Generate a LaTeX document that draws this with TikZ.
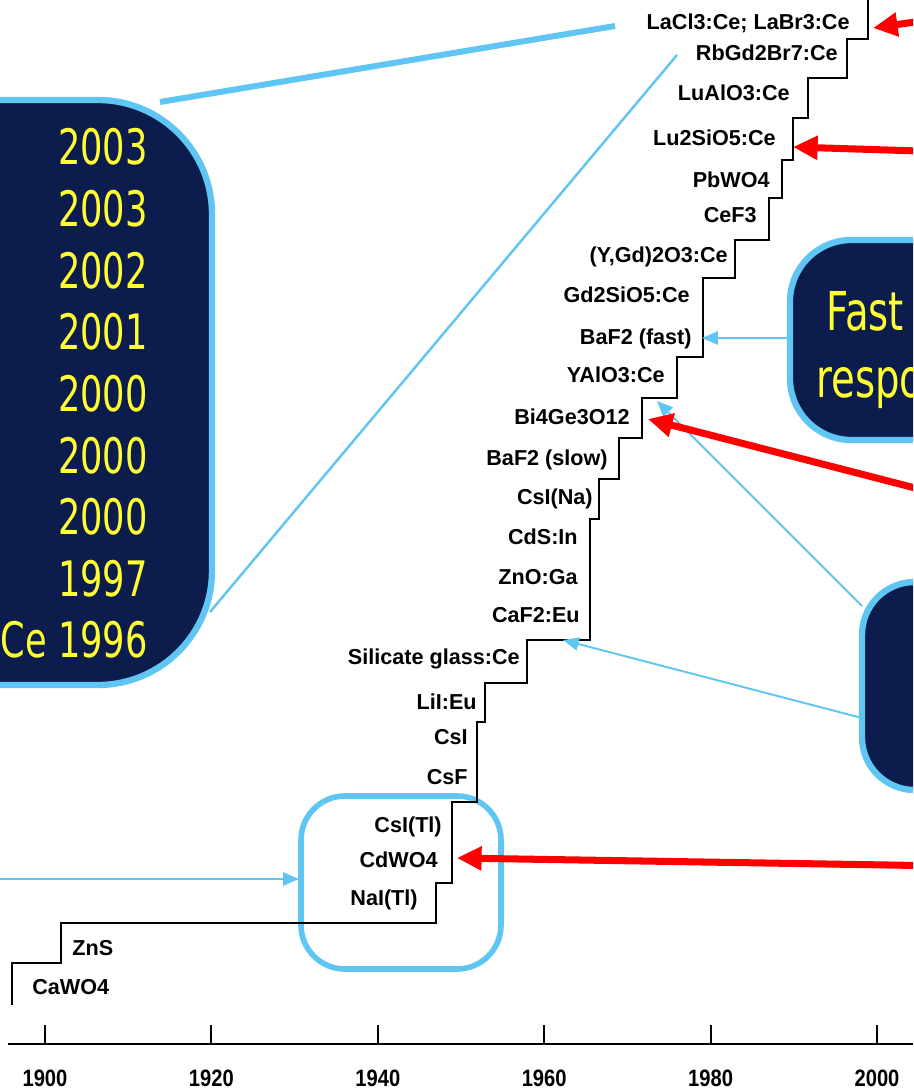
\documentclass[tikz,border=0pt]{standalone}
\usepackage{fontspec}
\setmainfont{Liberation Sans}
\newfontfamily\yrfont{DejaVu Sans}[FakeStretch=0.72]
\newfontfamily\axfont{Liberation Sans}[FakeStretch=0.85]
\usetikzlibrary{arrows.meta}
\definecolor{navy}{RGB}{12,28,76}
\definecolor{skyb}{RGB}{95,197,242}
\definecolor{yel}{RGB}{255,255,51}
\tikzset{
  mat/.style={font=\fontsize{12.3}{14}\selectfont\bfseries, anchor=base east, inner sep=0pt},
  matl/.style={mat, anchor=base west},
  yr/.style={font=\yrfont\fontsize{27.8}{30}\selectfont, text=yel, anchor=base east, inner sep=0pt},
  big/.style={font=\yrfont\fontsize{30.5}{32}\selectfont, text=yel, anchor=base west, inner sep=0pt},
  axlbl/.style={font=\axfont\bfseries\fontsize{13.5}{16}\selectfont, anchor=base, inner sep=0pt},
  panel/.style={draw=skyb, fill=navy, line width=3.6pt},
  bluearrow/.style={draw=skyb, line width=1.1pt, -{Triangle[length=9pt,width=7.5pt]}},
  redarrow/.style={draw=red, line width=4pt, -{Triangle[length=14pt,width=13pt]}},
  stair/.style={draw=black, line width=1.3pt},
}
\begin{document}
\begin{tikzpicture}[x=0.02cm, y=-0.02cm]
\useasboundingbox (0,0) rectangle (913,1091);
\clip (0,0) rectangle (913,1091);
\draw [panel, rounded corners=65] (-120,100) rectangle (212,685);
\draw [panel, rounded corners=35] (790,240) rectangle (1000,440);
\draw [panel, rounded corners=30] (862,582) rectangle (1000,790);
\draw [draw=skyb, line width=3.2pt, rounded corners=25] (301,796) rectangle (501,969);
\coordinate (yrtop) at (160,102);
\coordinate (yrside) at (210,612);
\coordinate (topend) at (615,26);
\coordinate (thinend) at (677,55);
\draw [draw=skyb, line width=3.4pt] (yrtop) -- (topend);
\draw [draw=skyb, line width=1.4pt] (yrside) -- (thinend);
\node[yr] (y1) at (148,165) {2003};
\node[yr] (y2) at (148,226.6) {2003};
\node[yr] (y3) at (148,288.2) {2002};
\node[yr] (y4) at (148,349.8) {2001};
\node[yr] (y5) at (148,411.4) {2000};
\node[yr] (y6) at (148,473) {2000};
\node[yr] (y7) at (148,534.6) {2000};
\node[yr] (y8) at (148,596.2) {1997};
\node[yr] (y9) at (148,657.8) {Ce 1996};
\node[big] (fast) at (826,330) {Fast};
\node[big] (respo) at (816,397) {respo};
\draw [stair] (12,1005) -- (12,963) -- (61,963) -- (61,923) -- (436,923) -- (436,883) -- (452,883) -- (452,802) -- (477,802) -- (477,722) -- (485,722) -- (485,683) -- (527,683) -- (527,640) -- (590,640) -- (590,519) -- (599,519) -- (599,479) -- (619,479) -- (619,438) -- (642,438) -- (642,398) -- (677,398) -- (677,357) -- (703,357) -- (703,278) -- (735,278) -- (735,240) -- (769,240) -- (769,198) -- (782,198) -- (782,160) -- (793,160) -- (793,118) -- (808,118) -- (808,78) -- (847,78) -- (847,39) -- (868,39) -- (868,-5);
\node[mat] (lacl) at (850,29.5) {LaCl3:Ce; LaBr3:Ce};
\node[mat] (rbgd) at (838,60.5) {RbGd2Br7:Ce};
\node[mat] (lualo) at (790,100.5) {LuAlO3:Ce};
\node[mat] (luso) at (776,145.5) {Lu2SiO5:Ce};
\node[mat] (pbwo) at (770,187.5) {PbWO4};
\node[mat] (cef) at (757,222.5) {CeF3};
\node[mat] (ygd) at (728,262.5) {(Y,Gd)2O3:Ce};
\node[mat] (gso) at (690,302.5) {Gd2SiO5:Ce};
\node[mat] (bafast) at (692,344.5) {BaF2 (fast)};
\node[mat] (yap) at (665,382.5) {YAlO3:Ce};
\node[mat] (bgo) at (630,424.5) {Bi4Ge3O12};
\node[mat] (baslow) at (608,465.5) {BaF2 (slow)};
\node[mat] (csina) at (593,504.5) {CsI(Na)};
\node[mat] (cds) at (578,544.5) {CdS:In};
\node[mat] (zno) at (578,584.5) {ZnO:Ga};
\node[mat] (caf) at (580,622.5) {CaF2:Eu};
\node[mat] (glass) at (520,664.5) {Silicate glass:Ce};
\node[mat] (lii) at (477,709.5) {LiI:Eu};
\node[mat] (csi) at (468,744.5) {CsI};
\node[mat] (csf) at (468,784.5) {CsF};
\node[mat] (csitl) at (442,832.5) {CsI(Tl)};
\node[mat] (cdwo) at (438,867.5) {CdWO4};
\node[mat] (nai) at (418,905.5) {NaI(Tl)};
\node[matl] (zns) at (72,955.5) {ZnS};
\node[matl] (cawo) at (32,994.5) {CaWO4};
\draw [line width=1.2pt] (8,1044) -- (913,1044);
\draw [line width=1.1pt] (45,1025) -- (45,1044);
\draw [line width=1.1pt] (211.4,1025) -- (211.4,1044);
\draw [line width=1.1pt] (377.8,1025) -- (377.8,1044);
\draw [line width=1.1pt] (544.2,1025) -- (544.2,1044);
\draw [line width=1.1pt] (710.6,1025) -- (710.6,1044);
\draw [line width=1.1pt] (877,1025) -- (877,1044);
\node[axlbl] (t1900) at (45,1086) {1900};
\node[axlbl] (t1920) at (211.4,1086) {1920};
\node[axlbl] (t1940) at (377.8,1086) {1940};
\node[axlbl] (t1960) at (544.2,1086) {1960};
\node[axlbl] (t1980) at (710.6,1086) {1980};
\node[axlbl] (t2000) at (877,1086) {2000};
\coordinate (leftin) at (0,879);
\coordinate (csiboxW) at (299,879);
\coordinate (fastW) at (790,338);
\coordinate (tipfast) at (702,338);
\coordinate (lowtop) at (862,606);
\coordinate (tipyap) at (657,401);
\coordinate (lowside) at (862,718);
\coordinate (tipcaf) at (563,640);
\draw [bluearrow] (leftin) -- (csiboxW);
\draw [bluearrow] (fastW) -- (tipfast);
\draw [bluearrow] (lowtop) -- (tipyap);
\draw [bluearrow] (lowside) -- (tipcaf);
\coordinate (r1) at (950,17);
\coordinate (tiplacl) at (873,28);
\coordinate (r2) at (950,152);
\coordinate (tipluso) at (793,147);
\coordinate (r3) at (950,497);
\coordinate (tipbgo) at (648,419);
\coordinate (r4) at (950,866);
\coordinate (tipcdwo) at (457,858);
\draw [redarrow] (r1) -- (tiplacl);
\draw [redarrow] (r2) -- (tipluso);
\draw [redarrow] (r3) -- (tipbgo);
\draw [redarrow] (r4) -- (tipcdwo);
\end{tikzpicture}
\end{document}
